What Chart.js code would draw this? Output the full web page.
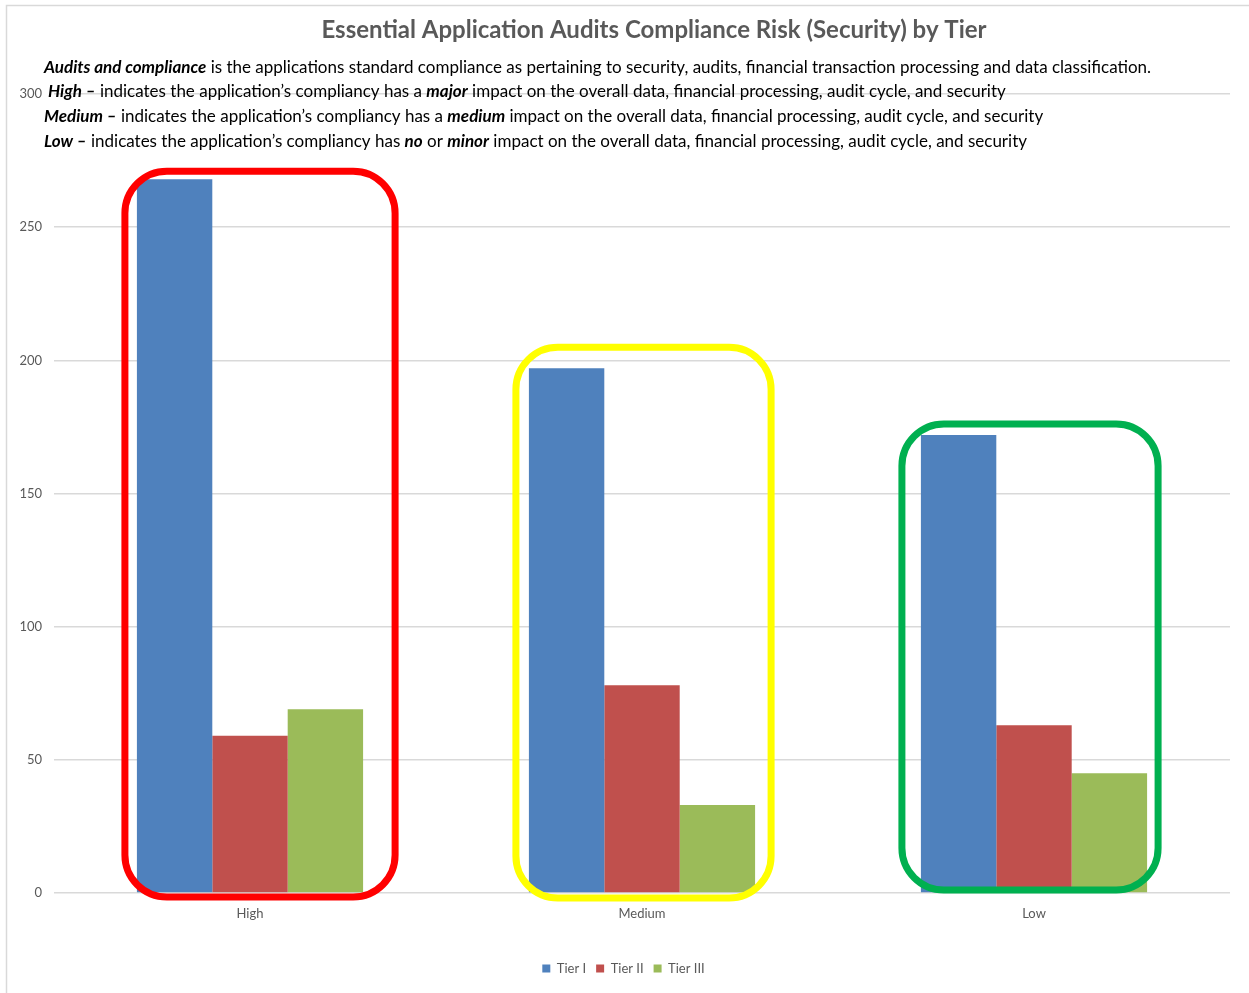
<!DOCTYPE html>
<html>
<head>
<meta charset="utf-8">
<script src="https://cdn.jsdelivr.net/npm/chart.js@4"></script>
<style>
  html, body { margin: 0; padding: 0; background: #fff; }
  canvas { display: block; }
</style>
</head>
<body>
<canvas id="riskChart" width="1249" height="993"></canvas>
<script>
const chartTitle = "Essential Application Audits Compliance Risk (Security) by Tier";
const categories = ["High", "Medium", "Low"];
const tierLabels = ["Tier I", "Tier II", "Tier III"];
const tier1Values = [268, 197, 172];
const tier2Values = [59, 78, 63];
const tier3Values = [69, 33, 45];
const yTicks = [0, 50, 100, 150, 200, 250, 300];

// description text, runs marked "e" are bold italic, "b" bold, "n" normal
const descLines = [
  [["Audits and compliance", "e"], [" is the applications standard compliance as pertaining to security, audits, financial transaction processing and data classification.", "n"]],
  [["High \u2013", "e"], [" indicates the application\u2019s compliancy has a ", "n"], ["major", "e"], [" impact on the overall data, financial processing, audit cycle, and security", "n"]],
  [["Medium \u2013", "e"], [" indicates the application\u2019s compliancy has a ", "n"], ["medium", "e"], [" impact on the overall data, financial processing, audit cycle, and security", "n"]],
  [["Low \u2013", "e"], [" indicates the application\u2019s compliancy has ", "n"], ["no", "e"], [" or ", "n"], ["minor", "e"], [" impact on the overall data, financial processing, audit cycle, and security", "n"]],
];

const tierColors = ["#4F81BD", "#C0504D", "#9BBB59"];
const FONT = "Lato, 'Open Sans', sans-serif";

const framePlugin = {
  id: 'frame',
  beforeDraw(chart) {
    const { ctx, width, height } = chart;
    ctx.save();
    ctx.fillStyle = "#fff";
    ctx.fillRect(0, 0, width, height);
    ctx.strokeStyle = "#d9d9d9";
    ctx.lineWidth = 1.5;
    ctx.beginPath();
    ctx.moveTo(6.5, height);
    ctx.lineTo(6.5, 5.5);
    ctx.lineTo(width, 5.5);
    ctx.stroke();
    ctx.restore();
  }
};

// title + the explanation lines above the plot
const descPlugin = {
  id: 'desc',
  afterDraw(chart, args, opts) {
    const { ctx } = chart;
    ctx.save();
    ctx.textBaseline = "middle";
    ctx.textAlign = "center";
    ctx.fillStyle = "#595959";
    ctx.font = "bold " + opts.titleSize + "px " + FONT;
    ctx.fillText(chartTitle, opts.titleX, opts.titleY);

    ctx.textAlign = "left";
    ctx.fillStyle = "#000";
    descLines.forEach((line, i) => {
      let x = opts.x[i];
      const y = opts.y[i];
      line.forEach(([text, kind]) => {
        ctx.font = (kind === "e" ? "italic bold " : kind === "b" ? "bold " : "") + opts.size + "px " + FONT;
        ctx.fillText(text, x, y);
        x += ctx.measureText(text).width;
      });
    });
    ctx.restore();
  }
};

// rounded outline boxes around each category group
const boxPlugin = {
  id: 'groupBoxes',
  afterDatasetsDraw(chart, args, opts) {
    const { ctx } = chart;
    const yScale = chart.scales.y;
    const first = chart.getDatasetMeta(0);
    const last = chart.getDatasetMeta(chart.data.datasets.length - 1);
    ctx.save();
    ctx.lineWidth = opts.lineWidth;
    opts.boxes.forEach(b => {
      const a = first.data[b.index];
      const z = last.data[b.index];
      let topY = Infinity;
      chart.data.datasets.forEach((ds, di) => {
        topY = Math.min(topY, chart.getDatasetMeta(di).data[b.index].y);
      });
      const left = a.x - a.width / 2 - b.pad[0];
      const right = z.x + z.width / 2 + b.pad[2];
      const top = topY - b.pad[1];
      const bottom = yScale.getPixelForValue(0) + b.pad[3];
      ctx.strokeStyle = b.color;
      ctx.beginPath();
      ctx.roundRect(left, top, right - left, bottom - top, opts.radius);
      ctx.stroke();
    });
    ctx.restore();
  }
};

new Chart(document.getElementById("riskChart"), {
  type: "bar",
  data: {
    labels: categories,
    datasets: [
      { label: tierLabels[0], data: tier1Values, backgroundColor: tierColors[0] },
      { label: tierLabels[1], data: tier2Values, backgroundColor: tierColors[1] },
      { label: tierLabels[2], data: tier3Values, backgroundColor: tierColors[2] },
    ],
  },
  options: {
    responsive: false,
    animation: false,
    layout: { padding: { top: 94, right: 19, left: 17, bottom: 8 } },
    datasets: {
      bar: { categoryPercentage: 0.577, barPercentage: 1.0 }
    },
    scales: {
      x: {
        grid: { display: false },
        border: { display: false },
        ticks: { color: "#595959", font: { family: FONT, size: 13 }, padding: 5 },
        afterFit(scale) { scale.height = 59; },
      },
      y: {
        min: 0,
        max: 300,
        afterBuildTicks(scale) { scale.ticks = yTicks.map(v => ({ value: v })); },
        grid: { color: "#d9d9d9", lineWidth: 1.5, drawTicks: false },
        border: { display: false },
        ticks: { color: "#595959", font: { family: FONT, size: 13 }, padding: 12 },
        afterFit(scale) { scale.width = 37; },
      },
    },
    plugins: {
      title: { display: false },
      legend: {
        position: "bottom",
        labels: {
          color: "#595959",
          font: { family: FONT, size: 13 },
          boxWidth: 8,
          boxHeight: 8,
          padding: 10,
        },
      },
      tooltip: { enabled: false },
      desc: {
        titleSize: 24, titleX: 654, titleY: 30,
        size: 17, x: [44, 48, 44, 44], y: [68, 92, 117, 142],
      },
      groupBoxes: {
        lineWidth: 7,
        radius: 42,
        boxes: [
          { index: 0, color: "#FF0000", pad: [12, 8, 32, 4] },
          { index: 1, color: "#FFFF00", pad: [13, 21, 16, 5] },
          { index: 2, color: "#00B050", pad: [19, 11, 11, -3] },
        ],
      },
    },
  },
  plugins: [framePlugin, descPlugin, boxPlugin],
});
</script>
</body>
</html>
